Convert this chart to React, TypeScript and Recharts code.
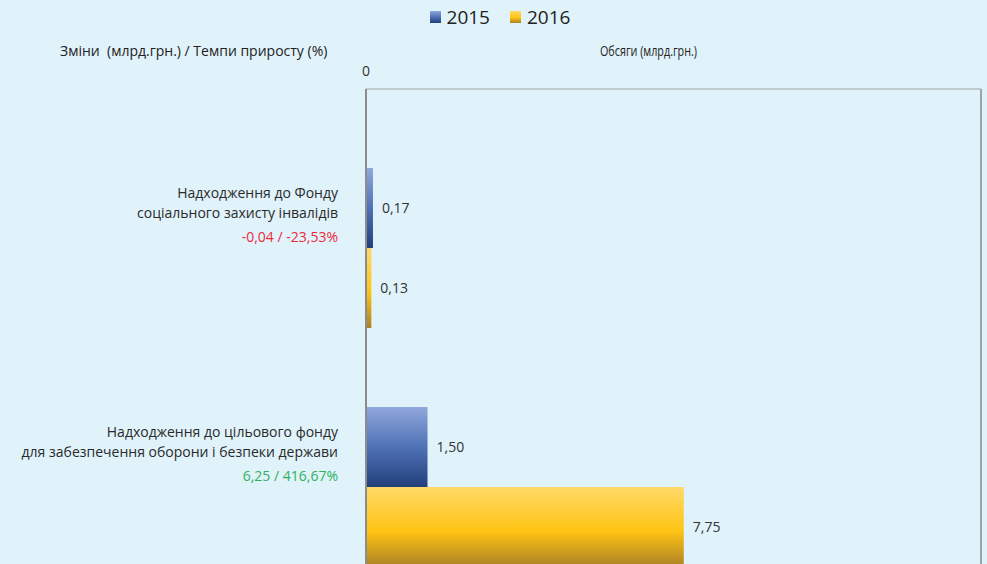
import { Bar, BarChart, LabelList, Legend, ReferenceLine, XAxis, YAxis } from "recharts";

const categoryTitles = [
  ["Надходження до Фонду", "соціального захисту інвалідів"],
  ["Надходження до цільового фонду", "для забезпечення оборони і безпеки держави"],
];
const changes = ["-0,04 / -23,53%", "6,25 / 416,67%"];
const changeValues = [-0.04, 6.25];
const values2015 = [0.17, 1.5];
const values2016 = [0.13, 7.75];
const xTicks = [0];
const xMax = 15;

const data = categoryTitles.map((t, i) => ({
  name: t.join(" "),
  y2015: values2015[i],
  y2016: values2016[i],
}));

const FONT = "'Open Sans', 'Noto Sans', sans-serif";
const BG = "#e0f2fa";

function fmt(v: unknown): string {
  return Number(v).toFixed(2).replace(".", ",");
}

function CategoryTick(props: any) {
  const { x, y, index } = props;
  const lines = categoryTitles[index] ?? [];
  const up = changeValues[index] >= 0;
  return (
    <g>
      {lines.map((l, k) => (
        <text
          key={k}
          x={x}
          y={y - 55 + k * 20}
          textAnchor="end"
          dominantBaseline="central"
          fontFamily={FONT}
          fontSize={14}
          fill="#2a2a2a"
        >
          {l}
        </text>
      ))}
      <text
        x={x}
        y={y - 11}
        textAnchor="end"
        dominantBaseline="central"
        fontFamily={FONT}
        fontSize={14}
        fill={up ? "#2db35d" : "#ee2a3a"}
      >
        {changes[index]}
      </text>
    </g>
  );
}

function LegendBox() {
  const items = [
    { label: "2015", grad: "url(#g2015)" },
    { label: "2016", grad: "url(#g2016)" },
  ];
  return (
    <div
      style={{
        display: "flex",
        justifyContent: "center",
        gap: 20,
        paddingLeft: 13,
        fontFamily: FONT,
      }}
    >
      {items.map((it) => (
        <div key={it.label} style={{ display: "flex", alignItems: "center", gap: 6 }}>
          <svg width={11} height={12}>
            <rect width={11} height={12} fill={it.grad} />
          </svg>
          <span style={{ fontSize: 19, color: "#222", lineHeight: "24px" }}>{it.label}</span>
        </div>
      ))}
    </div>
  );
}

export default function App() {
  return (
    <div
      style={{
        position: "fixed",
        left: 0,
        top: 0,
        width: 987,
        height: 564,
        overflow: "hidden",
        background: BG,
      }}
    >
      <div
        style={{
          position: "absolute",
          left: 60,
          top: 41,
          fontFamily: FONT,
          fontSize: 14,
          color: "#222",
          whiteSpace: "pre",
        }}
      >
        {"Зміни  (млрд.грн.) / Темпи приросту (%)"}
      </div>
      <svg style={{ position: "absolute", left: 0, top: 0 }} width={987} height={70}>
        <text
          x={600}
          y={56}
          fontFamily={FONT}
          fontSize={14}
          fill="#222"
          textLength={97}
          lengthAdjust="spacingAndGlyphs"
        >
          Обсяги (млрд.грн.)
        </text>
      </svg>
      <BarChart
        width={987}
        height={606}
        data={data}
        layout="vertical"
        barCategoryGap={40}
        barGap={0}
        margin={{ top: 63, right: 6, bottom: 0, left: 0 }}
      >
        <defs>
          <linearGradient id="g2015" x1="0" y1="0" x2="0" y2="1">
            <stop offset="0%" stopColor="#90a8db" />
            <stop offset="50%" stopColor="#4f71b6" />
            <stop offset="100%" stopColor="#223f7b" />
          </linearGradient>
          <linearGradient id="g2016" x1="0" y1="0" x2="0" y2="1">
            <stop offset="0%" stopColor="#fed968" />
            <stop offset="55%" stopColor="#ffc414" />
            <stop offset="100%" stopColor="#ab8027" />
          </linearGradient>
        </defs>
        <Legend
          verticalAlign="middle"
          align="center"
          wrapperStyle={{ top: 5, left: 0, width: 987 }}
          content={() => <LegendBox />}
        />
        <XAxis
          type="number"
          orientation="top"
          domain={[0, xMax]}
          ticks={xTicks}
          height={26}
          tickLine={false}
          tickSize={0}
          tickMargin={13}
          axisLine={{ stroke: "#a0a4a6", strokeWidth: 1 }}
          tick={{ fontSize: 14, fill: "#333", fontFamily: FONT }}
        />
        <YAxis
          type="category"
          dataKey="name"
          width={366}
          padding={{ top: 39, bottom: 0 }}
          tickLine={false}
          tickSize={0}
          tickMargin={28}
          axisLine={{ stroke: "#8c8c8c", strokeWidth: 2 }}
          tick={<CategoryTick />}
          interval={0}
        />
        <ReferenceLine x={xMax} stroke="#a0a4a6" strokeWidth={2} />
        <Bar dataKey="y2015" name="2015" fill="url(#g2015)" isAnimationActive={false}>
          <LabelList
            dataKey="y2015"
            position="right"
            offset={9}
            formatter={fmt}
            style={{ fontSize: 14, fill: "#333", fontFamily: FONT }}
          />
        </Bar>
        <Bar dataKey="y2016" name="2016" fill="url(#g2016)" isAnimationActive={false}>
          <LabelList
            dataKey="y2016"
            position="right"
            offset={9}
            formatter={fmt}
            style={{ fontSize: 14, fill: "#333", fontFamily: FONT }}
          />
        </Bar>
      </BarChart>
    </div>
  );
}
